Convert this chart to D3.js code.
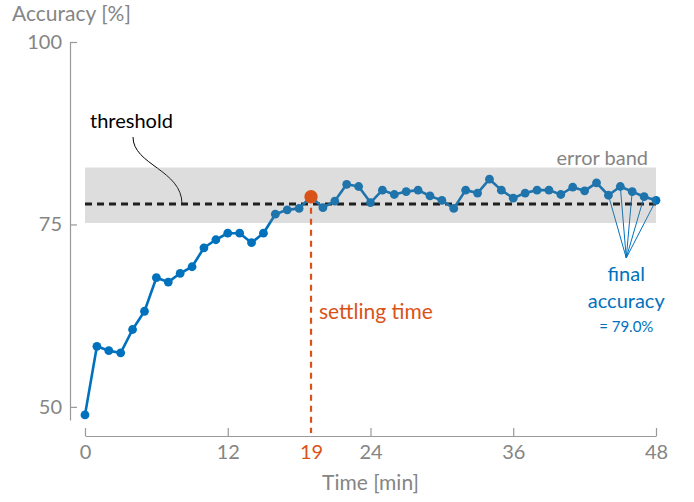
<!DOCTYPE html>
<html>
<head>
<meta charset="utf-8">
<script src="https://cdn.jsdelivr.net/npm/d3@7"></script>
<style>
  html, body { margin: 0; padding: 0; background: #fff; }
  svg { display: block; font-family: Lato, "Open Sans", sans-serif; }
</style>
</head>
<body>
<svg id="chart" width="694" height="502"></svg>
<script>
// Accuracy measured once per minute
const times = [0,1,2,3,4,5,6,7,8,9,10,11,12,13,14,15,16,17,18,19,20,21,22,23,24,
               25,26,27,28,29,30,31,32,33,34,35,36,37,38,39,40,41,42,43,44,45,46,47,48];
const accuracy = [48.9,58.3,57.7,57.4,60.6,63.1,67.7,67.1,68.3,69.2,71.8,72.9,73.8,73.8,72.5,73.8,
                  76.4,77.0,77.2,78.8,77.3,78.2,80.5,80.2,78.0,79.7,79.1,79.5,79.7,78.9,78.3,77.2,
                  79.7,79.3,81.2,79.7,78.6,79.3,79.7,79.7,79.1,80.1,79.6,80.7,79.0,80.2,79.5,78.8,78.3];

const xTicks = [0, 12, 19, 24, 36, 48];
const yTicks = [50, 75, 100];

const threshold = 77.8;
const finalAccuracy = 79.0;
const bandHalfWidth = 3.8;
const settlingTime = 19;
const finalWindow = [44, 45, 46, 47, 48];
const finalAnchor = { t: 45.5, acc: 70.4 };

const blue = "#0072BD";
const orange = "#D95319";
const axisGray = "#999";
const textGray = "#858585";

const svg = d3.select("#chart");

const x = d3.scaleLinear().domain([0, 48]).range([85, 656]);
const y = d3.scaleLinear().domain([48.2, 100]).range([420, 42]);

// Axes
const xAxis = svg.append("g")
  .attr("transform", "translate(0,436)")
  .call(d3.axisBottom(x).tickValues(xTicks).tickFormat(d3.format("d"))
        .tickSizeInner(-8).tickSizeOuter(0).tickPadding(9));
const yAxis = svg.append("g")
  .attr("transform", "translate(70,0)")
  .call(d3.axisLeft(y).tickValues(yTicks).tickFormat(d3.format("d"))
        .tickSizeInner(-7).tickSizeOuter(0).tickPadding(8));

[xAxis, yAxis].forEach(g => {
  g.select(".domain").attr("stroke", axisGray).attr("stroke-width", 1.2);
  g.selectAll(".tick line").attr("stroke", axisGray).attr("stroke-width", 1.2);
  g.selectAll(".tick text").attr("fill", textGray)
    .attr("font-size", 20).attr("font-family", "Lato, 'Open Sans', sans-serif");
});
xAxis.selectAll(".tick").filter(d => d === settlingTime)
  .call(t => t.select("line").remove())
  .select("text").attr("fill", orange);

// Axis titles
svg.append("text").attr("x", 12).attr("y", 21)
  .attr("fill", textGray).attr("font-size", 21).text("Accuracy [%]");
svg.append("text").attr("x", (x(0) + x(48)) / 2).attr("y", 490)
  .attr("text-anchor", "middle").attr("fill", textGray).attr("font-size", 21)
  .text("Time [min]");

// Threshold line
svg.append("line")
  .attr("x1", x(0)).attr("x2", x(48))
  .attr("y1", y(threshold)).attr("y2", y(threshold))
  .attr("stroke", "#000").attr("stroke-width", 3)
  .attr("stroke-dasharray", "7,5");

// Threshold label with curved leader
svg.append("text").attr("x", 90).attr("y", 128)
  .attr("fill", "#000").attr("font-size", 20).text("threshold");
const lx = 182, ly = y(threshold);
svg.append("path")
  .attr("d", `M133,137 C133,165 ${lx},170 ${lx},${ly}`)
  .attr("fill", "none").attr("stroke", "#000").attr("stroke-width", 1);

// Leader lines to the final-window samples
const idx = t => times.indexOf(t);
svg.append("g").selectAll("line").data(finalWindow).join("line")
  .attr("x1", x(finalAnchor.t)).attr("y1", y(finalAnchor.acc))
  .attr("x2", d => x(d)).attr("y2", d => y(accuracy[idx(d)]))
  .attr("stroke", blue).attr("stroke-width", 1);

// Accuracy trace
const pts = times.map((t, i) => [t, accuracy[i]]);
svg.append("path").datum(pts)
  .attr("d", d3.line().x(d => x(d[0])).y(d => y(d[1])))
  .attr("fill", "none").attr("stroke", blue).attr("stroke-width", 2.6)
  .attr("stroke-linejoin", "round");
svg.append("g").selectAll("circle").data(pts.filter(d => d[0] !== settlingTime)).join("circle")
  .attr("cx", d => x(d[0])).attr("cy", d => y(d[1])).attr("r", 4.4)
  .attr("fill", blue);

// Translucent error band laid over the trace
svg.append("rect")
  .attr("x", x(0)).attr("width", x(48) - x(0))
  .attr("y", y(finalAccuracy + bandHalfWidth))
  .attr("height", y(finalAccuracy - bandHalfWidth) - y(finalAccuracy + bandHalfWidth))
  .attr("fill", "rgb(122,122,122)").attr("fill-opacity", 0.255);
svg.append("text").attr("x", 648).attr("y", 165)
  .attr("text-anchor", "end").attr("fill", textGray).attr("font-size", 20)
  .text("error band");

// Settling time marker
const settleAcc = accuracy[idx(settlingTime)];
svg.append("line")
  .attr("x1", x(settlingTime)).attr("x2", x(settlingTime))
  .attr("y1", y(settleAcc)).attr("y2", 433)
  .attr("stroke", orange).attr("stroke-width", 2.2)
  .attr("stroke-dasharray", "6,5");
svg.append("circle")
  .attr("cx", x(settlingTime)).attr("cy", y(settleAcc)).attr("r", 6.7)
  .attr("fill", orange);
svg.append("text").attr("x", x(settlingTime) + 8).attr("y", 319)
  .attr("fill", orange).attr("font-size", 21).text("settling time");

// Final accuracy label
const ax = x(finalAnchor.t), ay = y(finalAnchor.acc);
const fl = svg.append("g").attr("fill", blue).attr("text-anchor", "middle");
fl.append("text").attr("x", ax).attr("y", ay + 23).attr("font-size", 20).text("final");
fl.append("text").attr("x", ax).attr("y", ay + 50).attr("font-size", 20).text("accuracy");
fl.append("text").attr("x", ax).attr("y", ay + 74).attr("font-size", 15)
  .text(`= ${finalAccuracy.toFixed(1)}%`);
</script>
</body>
</html>
